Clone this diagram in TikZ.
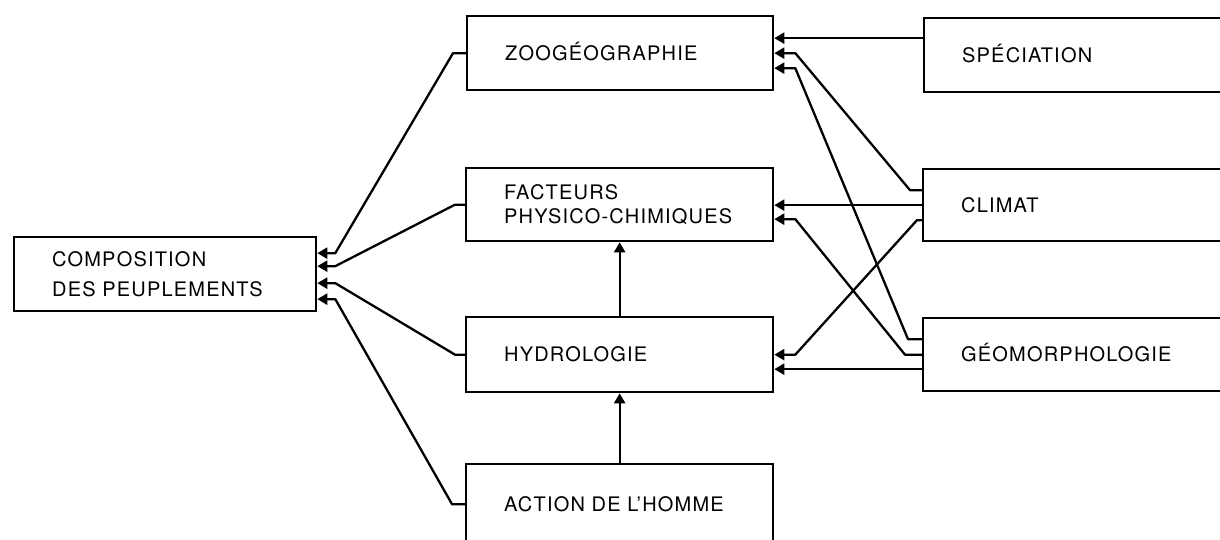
\documentclass[tikz,border=0pt]{standalone}
\usepackage{fontspec}
\setmainfont{TeX Gyre Heros}[LetterSpace=6]
\usetikzlibrary{arrows.meta,calc}
\begin{document}
\begin{tikzpicture}[x=1pt,y=-1pt,
  box/.style={draw, line width=2.3pt, inner xsep=38pt, inner ysep=0pt,
    align=left, anchor=north west, font=\fontsize{20}{24}\selectfont},
  one/.style={text height=14.4pt, text depth=0pt},
  conn/.style={line width=2.3pt, line join=round,
    -{Triangle[length=10pt,width=11pt]}},
]
\useasboundingbox (0,0) rectangle (1220,539);
% boxes
\node[box, text width=226pt, minimum height=74pt, font=\fontsize{20}{30}\selectfont] (comp) at (13,236) {COMPOSITION\\DES PEUPLEMENTS};
\node[box, one, text width=230pt, minimum height=74pt] (zoo) at (466,15) {ZOOGÉOGRAPHIE};
\node[box, text width=231pt, minimum height=73pt] (fac) at (465,167) {FACTEURS\\PHYSICO-CHIMIQUES};
\node[box, one, text width=231pt, minimum height=75pt] (hyd) at (465,316) {HYDROLOGIE};
\node[box, one, text width=231pt, minimum height=80pt] (act) at (465,463) {ACTION DE L’HOMME};
\node[box, one, text width=244pt, minimum height=74pt] (spe) at (923,17) {SPÉCIATION};
\node[box, one, text width=244pt, minimum height=72pt] (cli) at (922,168) {CLIMAT};
\node[box, one, text width=244pt, minimum height=73pt] (geo) at (922,317) {GÉOMORPHOLOGIE};
% connectors to composition
\draw[conn] (zoo.west) -- ++(-13,0) -- ($(comp.east)+(18,-21)$) -- ($(comp.east)+(0,-21)$);
\draw[conn] (fac.west) -- ++(-10,0) -- ($(comp.east)+(18,-8)$) -- ($(comp.east)+(0,-8)$);
\draw[conn] (hyd.west) -- ++(-10,0) -- ($(comp.east)+(18,9)$) -- ($(comp.east)+(0,9)$);
\draw[conn] (act.west) -- ++(-13,0) -- ($(comp.east)+(18,25)$) -- ($(comp.east)+(0,25)$);
% vertical
\draw[conn] (hyd.north) -- (fac.south);
\draw[conn] (act.north) -- (hyd.south);
% right side
\coordinate (z1) at ($(zoo.east)+(0,-15)$);
\draw[conn] (z1 -| spe.west) -- (z1);
\draw[conn] ($(cli.west)+(0,-15)$) -- ++(-12,0) -- ($(zoo.east)+(21,0)$) -- (zoo.east);
\draw[conn] ($(geo.west)+(0,-15.5)$) -- ++(-14,0) -- ($(zoo.east)+(21,15)$) -- ($(zoo.east)+(0,15)$);
\draw[conn] (cli.west) -- (cli.west -| fac.east);
\draw[conn] (geo.west) -- ++(-17,0) -- ($(fac.east)+(21,14.5)$) -- ($(fac.east)+(0,14.5)$);
\draw[conn] ($(cli.west)+(0,15)$) -- ++(-5,0) -- ($(hyd.east)+(21,0)$) -- (hyd.east);
\coordinate (g3) at ($(geo.west)+(0,14.5)$);
\draw[conn] (g3) -- (g3 -| hyd.east);
\end{tikzpicture}
\end{document}
